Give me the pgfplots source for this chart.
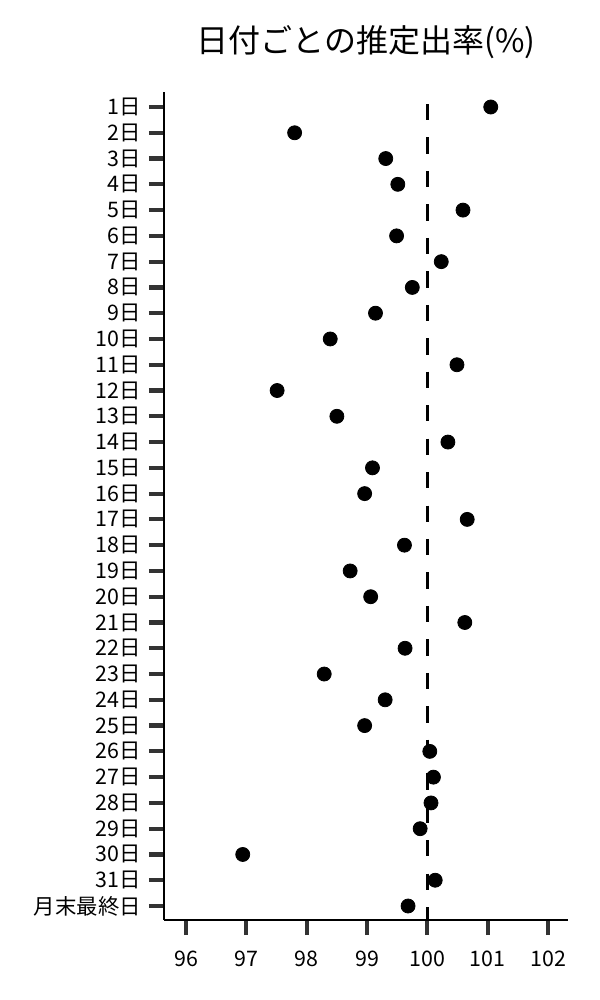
\documentclass[border=0pt]{standalone}
\usepackage{fontspec}
\setmainfont{Noto Sans CJK JP}
\usepackage{pgfplots}
\pgfplotsset{compat=1.18}

\definecolor{tickgray}{HTML}{333333}

\begin{document}
\begin{tikzpicture}
\begin{axis}[
  scale only axis,
  width=202bp, height=414bp,
  xmin=95.635, xmax=102.33,
  ymin=-0.582, ymax=31.543,
  y dir=reverse,
  clip=false,
  axis x line*=bottom,
  axis y line*=left,
  axis line style={black, line width=0.6bp},
  xtick={96,97,...,102},
  ytick={0,1,...,31},
  yticklabels={1日,2日,3日,4日,5日,6日,7日,8日,9日,10日,11日,12日,13日,14日,15日,16日,17日,18日,19日,20日,21日,22日,23日,24日,25日,26日,27日,28日,29日,30日,31日,月末最終日},
  tick align=outside,
  major tick length=7.5bp,
  tick style={tickgray, line width=2.1bp},
  /pgf/number format/assume math mode=true,
  ticklabel style={font=\fontsize{10.7bp}{12.5bp}\selectfont, text=black},
  xticklabel style={yshift=-4.5bp},
  yticklabel style={xshift=-0.5bp},
]
\addplot[only marks, mark=*, mark size=3.5bp, black] coordinates {
(101.05,0) (97.80,1) (99.31,2) (99.51,3) (100.59,4) (99.49,5) (100.23,6) (99.75,7)
(99.14,8) (98.39,9) (100.49,10) (97.51,11) (98.50,12) (100.34,13) (99.09,14) (98.96,15)
(100.66,16) (99.62,17) (98.72,18) (99.06,19) (100.62,20) (99.63,21) (98.29,22) (99.30,23)
(98.96,24) (100.04,25) (100.10,26) (100.06,27) (99.88,28) (96.94,29) (100.13,30) (99.68,31)
};
\draw[black, line width=1.2bp, dash pattern=on 8.15bp off 8.58bp, dash phase=10.73bp]
  (axis cs:100,-0.582) -- (axis cs:100,31.543);
\node[font=\fontsize{16bp}{19bp}\selectfont] at (rel axis cs:0.5,1.0604) {日付ごとの推定出率(\%)};
\coordinate (bbl) at (rel axis cs:-0.40594,-0.09662);
\coordinate (btr) at (rel axis cs:1.07921,1.11111);
\end{axis}
\pgfresetboundingbox
\path[use as bounding box] (bbl) rectangle (btr);
\end{tikzpicture}
\end{document}
